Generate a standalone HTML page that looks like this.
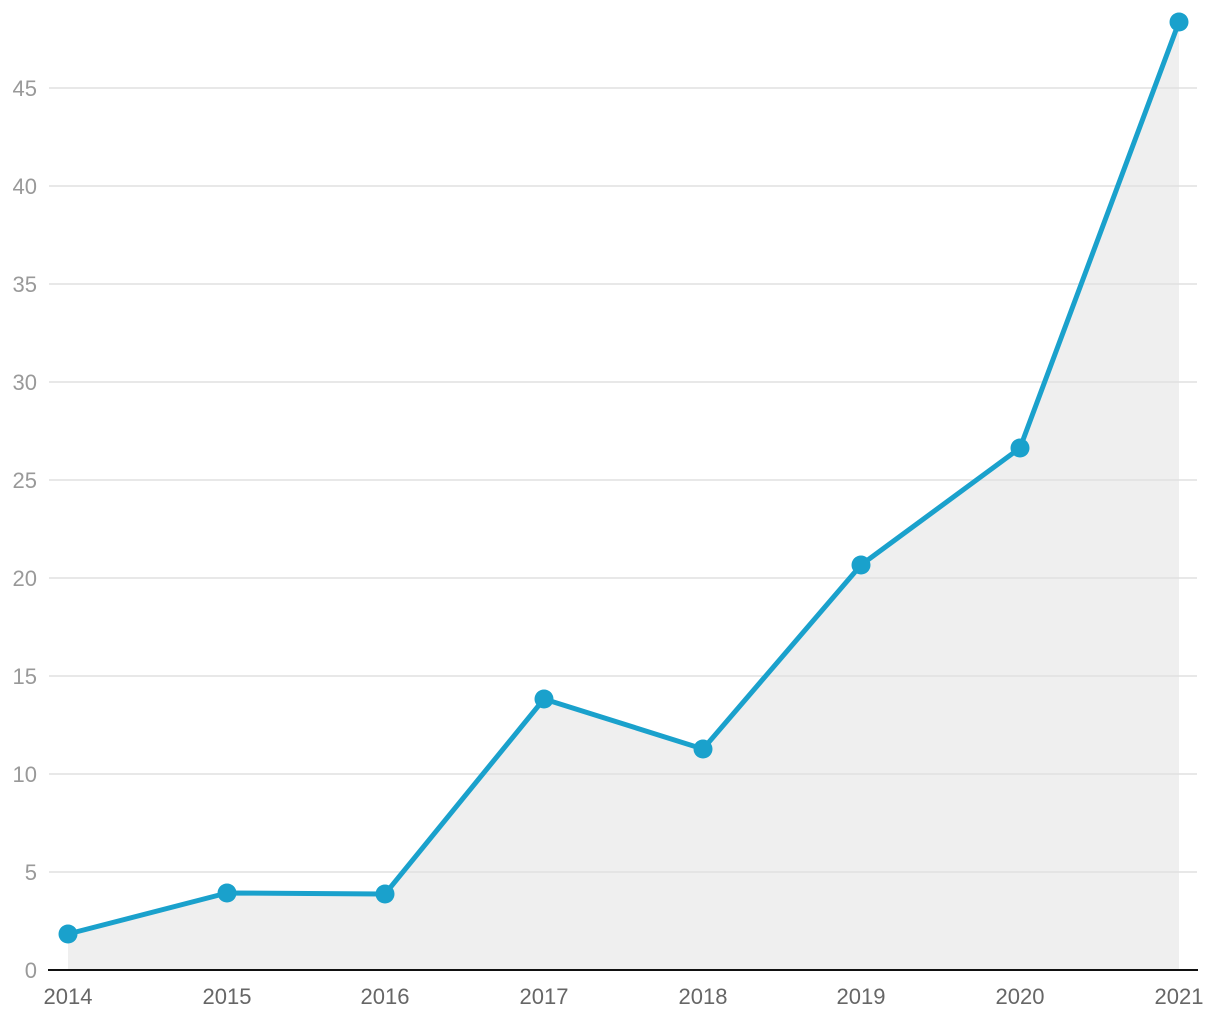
<!DOCTYPE html>
<html><head><style>
html,body{margin:0;padding:0;background:#fff;width:1220px;height:1020px;overflow:hidden}
text{font-family:"Liberation Sans",sans-serif}
</style></head><body>
<svg width="1220" height="1020" viewBox="0 0 1220 1020" xmlns="http://www.w3.org/2000/svg">
<polygon points="68,934 227,893 385,894 544,699 703,749 861,565 1020,448 1179,22 1179,970 68,970" fill="#efefef"/>
<g stroke="#e0e0e0" stroke-width="1.5">
<line x1="49" x2="1197" y1="872" y2="872"/>
<line x1="49" x2="1197" y1="774" y2="774"/>
<line x1="49" x2="1197" y1="676" y2="676"/>
<line x1="49" x2="1197" y1="578" y2="578"/>
<line x1="49" x2="1197" y1="480" y2="480"/>
<line x1="49" x2="1197" y1="382" y2="382"/>
<line x1="49" x2="1197" y1="284" y2="284"/>
<line x1="49" x2="1197" y1="186" y2="186"/>
<line x1="49" x2="1197" y1="88" y2="88"/>
</g>
<line x1="48" x2="1198" y1="970" y2="970" stroke="#111" stroke-width="2"/>
<g fill="#999" font-size="22" text-anchor="end">
<text x="37" y="978">0</text>
<text x="37" y="880">5</text>
<text x="37" y="782">10</text>
<text x="37" y="684">15</text>
<text x="37" y="586">20</text>
<text x="37" y="488">25</text>
<text x="37" y="390">30</text>
<text x="37" y="292">35</text>
<text x="37" y="194">40</text>
<text x="37" y="96">45</text>
</g>
<g fill="#666" font-size="22" text-anchor="middle">
<text x="68" y="1004">2014</text>
<text x="227" y="1004">2015</text>
<text x="385" y="1004">2016</text>
<text x="544" y="1004">2017</text>
<text x="703" y="1004">2018</text>
<text x="861" y="1004">2019</text>
<text x="1020" y="1004">2020</text>
<text x="1179" y="1004">2021</text>
</g>
<polyline points="68,934 227,893 385,894 544,699 703,749 861,565 1020,448 1179,22" fill="none" stroke="#1aa1cc" stroke-width="5" stroke-linejoin="round"/>
<g fill="#1aa1cc">
<circle cx="68" cy="934" r="9.5"/><circle cx="227" cy="893" r="9.5"/><circle cx="385" cy="894" r="9.5"/>
<circle cx="544" cy="699" r="9.5"/><circle cx="703" cy="749" r="9.5"/><circle cx="861" cy="565" r="9.5"/>
<circle cx="1020" cy="448" r="9.5"/><circle cx="1179" cy="22" r="9.5"/>
</g>
</svg>
</body></html>
